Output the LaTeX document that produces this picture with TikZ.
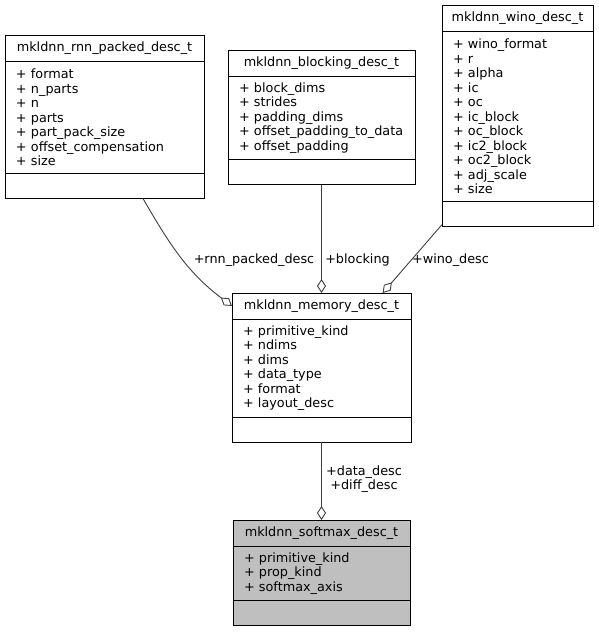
\documentclass[tikz,border=0pt]{standalone}
\usepackage{fontspec}
\setmainfont{DejaVu Sans}
\usetikzlibrary{arrows.meta,positioning}

\definecolor{edgegray}{HTML}{404040}
\definecolor{focusgray}{HTML}{BFBFBF}

\begin{document}
\begin{tikzpicture}[
    x=1pt, y=-1pt,
    font=\fontsize{12.8}{14.5}\selectfont,
    every node/.style={outer sep=0pt},
    classname/.style={draw,line width=0.9pt,fill=white,inner sep=0pt,minimum height=26pt},
    classattr/.style={draw,line width=0.9pt,fill=white,inner xsep=11pt,inner ysep=0pt,align=left},
    classops/.style={draw,line width=0.9pt,fill=white,inner sep=0pt,minimum height=25pt},
    focus/.style={fill=focusgray},
    assoc/.style={draw=edgegray,line width=0.9pt,-{Diamond[open,length=14pt,width=9pt]}},
    role/.style={inner sep=0pt},
]

\useasboundingbox (0,0) rectangle (599,632);

%----------------------------------
% Member types
%----------------------------------

\node[classname,minimum width=199pt,anchor=north west] (rnnT) at (5,35) {mkldnn\_rnn\_packed\_desc\_t};
\node[classattr,text width=177pt,minimum height=112.5pt,below=0pt of rnnT] (rnnA)
    {+ format\\+ n\_parts\\+ n\\+ parts\\+ part\_pack\_size\\+ offset\_compensation\\+ size};
\node[classops,minimum width=199pt,below=0pt of rnnA] (rnnE) {};

\node[classname,minimum width=187pt,anchor=north west] (blkT) at (228,50) {mkldnn\_blocking\_desc\_t};
\node[classattr,text width=165pt,minimum height=83.5pt,below=0pt of blkT] (blkA)
    {+ block\_dims\\+ strides\\+ padding\_dims\\+ offset\_padding\_to\_data\\+ offset\_padding};
\node[classops,minimum width=187pt,below=0pt of blkA] (blkE) {};

\node[classname,minimum width=151pt,anchor=north west] (winoT) at (442,5) {mkldnn\_wino\_desc\_t};
\node[classattr,text width=129pt,minimum height=170.5pt,below=0pt of winoT] (winoA)
    {+ wino\_format\\+ r\\+ alpha\\+ ic\\+ oc\\+ ic\_block\\+ oc\_block\\+ ic2\_block\\+ oc2\_block\\+ adj\_scale\\+ size};
\node[classops,minimum width=151pt,below=0pt of winoA] (winoE) {};

%----------------------------------
% Memory descriptor
%----------------------------------

\node[classname,minimum width=179pt,anchor=north west] (memT) at (232,293) {mkldnn\_memory\_desc\_t};
\node[classattr,text width=157pt,minimum height=98pt,below=0pt of memT] (memA)
    {+ primitive\_kind\\+ ndims\\+ dims\\+ data\_type\\+ format\\+ layout\_desc};
\node[classops,minimum width=179pt,below=0pt of memA] (memE) {};

%----------------------------------
% Softmax descriptor
%----------------------------------

\node[classname,focus,minimum width=177pt,anchor=north west] (smxT) at (233,520) {mkldnn\_softmax\_desc\_t};
\node[classattr,focus,text width=155pt,minimum height=54.5pt,below=0pt of smxT] (smxA)
    {+ primitive\_kind\\+ prop\_kind\\+ softmax\_axis};
\node[classops,focus,minimum width=177pt,below=0pt of smxA] (smxE) {};

%----------------------------------
% Aggregations
%----------------------------------

\draw[assoc] (rnnE.-18) to[out=-60,in=143] (memT.west);
\draw[assoc] (blkE) -- (memT);
\draw[assoc] (winoE.188) -- (memT.12);
\draw[assoc] (memE) -- (smxT);

\node[role] (lRnn) at (254,260) {+rnn\_packed\_desc};
\node[role] (lBlk) at (357.5,260) {+blocking};
\node[role] (lWino) at (450.5,260) {+wino\_desc};
\node[role,align=center] (lMem) at (364,479) {+data\_desc\\+diff\_desc};

\end{tikzpicture}
\end{document}
